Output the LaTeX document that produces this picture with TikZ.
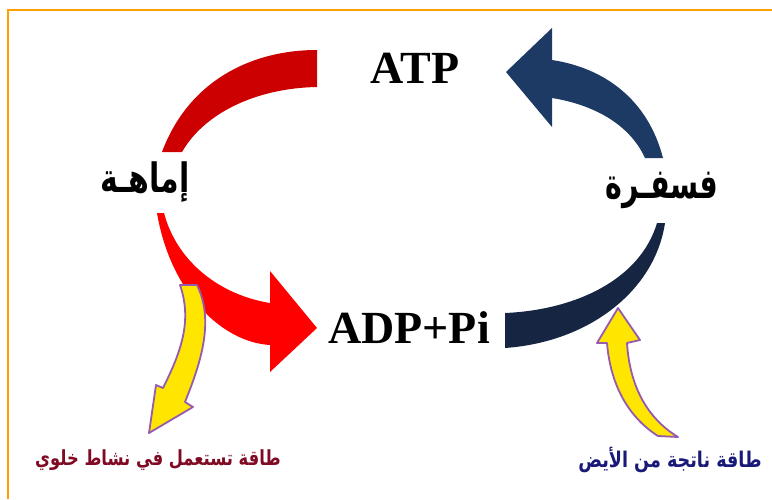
\documentclass[tikz,border=0pt]{standalone}
\usepackage{fontspec}
\usepackage{graphicx}
\setmainfont{Liberation Serif}
\newfontfamily\arabicfont[Script=Arabic]{DejaVu Sans}
\TeXXeTstate=1
\definecolor{frameorange}{RGB}{255,160,0}
\definecolor{darkred}{RGB}{204,0,0}
\definecolor{brightred}{RGB}{255,0,0}
\definecolor{upblue}{RGB}{28,58,100}
\definecolor{lowblue}{RGB}{22,38,66}
\definecolor{yel}{RGB}{255,230,0}
\definecolor{purp}{RGB}{150,90,175}
\definecolor{maroon}{RGB}{128,10,35}
\definecolor{navytext}{RGB}{25,25,120}
\tikzset{
  chem/.style={font=\fontsize{46}{50}\selectfont\bfseries, inner sep=0pt},
  proc/.style={font=\arabicfont\fontsize{30}{34}\selectfont\bfseries, inner sep=0pt},
  lab/.style={font=\arabicfont\fontsize{16}{20}\selectfont\bfseries, inner sep=0pt},
  yarrow/.style={fill=yel, draw=purp, line width=1.8pt, line join=round}
}
\begin{document}
\begin{tikzpicture}[x=1pt,y=-1pt]
\useasboundingbox (0,0) rectangle (772,499);
% frame
\draw[frameorange, line width=2.5pt] (8,499) -- (8,10) -- (772,10);
% red upper arc
\fill[darkred] (162,152) .. controls (188,82) and (250,50) .. (317,50)
  -- (317,87) .. controls (258,88) and (205,112) .. (182,152) -- cycle;
% red lower arrow
\fill[brightred] (157,213) .. controls (170,290) and (220,342) .. (270,345)
  -- (270,372) -- (317,328) -- (270,271) -- (270,303)
  .. controls (220,295) and (177,262) .. (164,213) -- cycle;
% blue upper arrow
\fill[upblue] (663,158) .. controls (648,100) and (605,68) .. (552,60)
  -- (552,28) -- (506,72) -- (552,127) -- (552,98)
  .. controls (595,105) and (630,125) .. (645,158) -- cycle;
% blue lower arc
\fill[lowblue] (665,223) .. controls (655,290) and (590,342) .. (505,348)
  -- (505,313) .. controls (575,310) and (640,280) .. (657,223) -- cycle;
% yellow arrows
\filldraw[yarrow] (180,285) -- (197,285) .. controls (214,320) and (202,360) .. (185,402)
  -- (193,407) -- (149,433) -- (156,385) -- (163,388)
  .. controls (182,350) and (192,320) .. (180,285) -- cycle;
\filldraw[yarrow] (618,308) -- (640,340) -- (627,343)
  .. controls (630,390) and (650,420) .. (678,437) -- (658,436)
  .. controls (625,415) and (610,380) .. (607,343) -- (597,343) -- cycle;
% texts
\node[chem] (atp) at (415,68) {ATP};
\node[chem] (adp) at (409,328) {ADP+Pi};
\node[proc] (hyd) at (145,182) {\scalebox{1}[1.35]{\beginR إماهـة\endR}};
\node[proc] (pho) at (662,190) {\scalebox{0.95}[1.4]{\beginR فسفـرة\endR}};
\node[lab, text=maroon] (use) at (158,460) {\scalebox{1.02}[1.3]{\beginR طاقة تستعمل في نشاط خلوي\endR}};
\node[lab, text=navytext] (met) at (670,460) {\scalebox{1.1}[1.35]{\beginR طاقة ناتجة من الأيض\endR}};
\end{tikzpicture}
\end{document}
